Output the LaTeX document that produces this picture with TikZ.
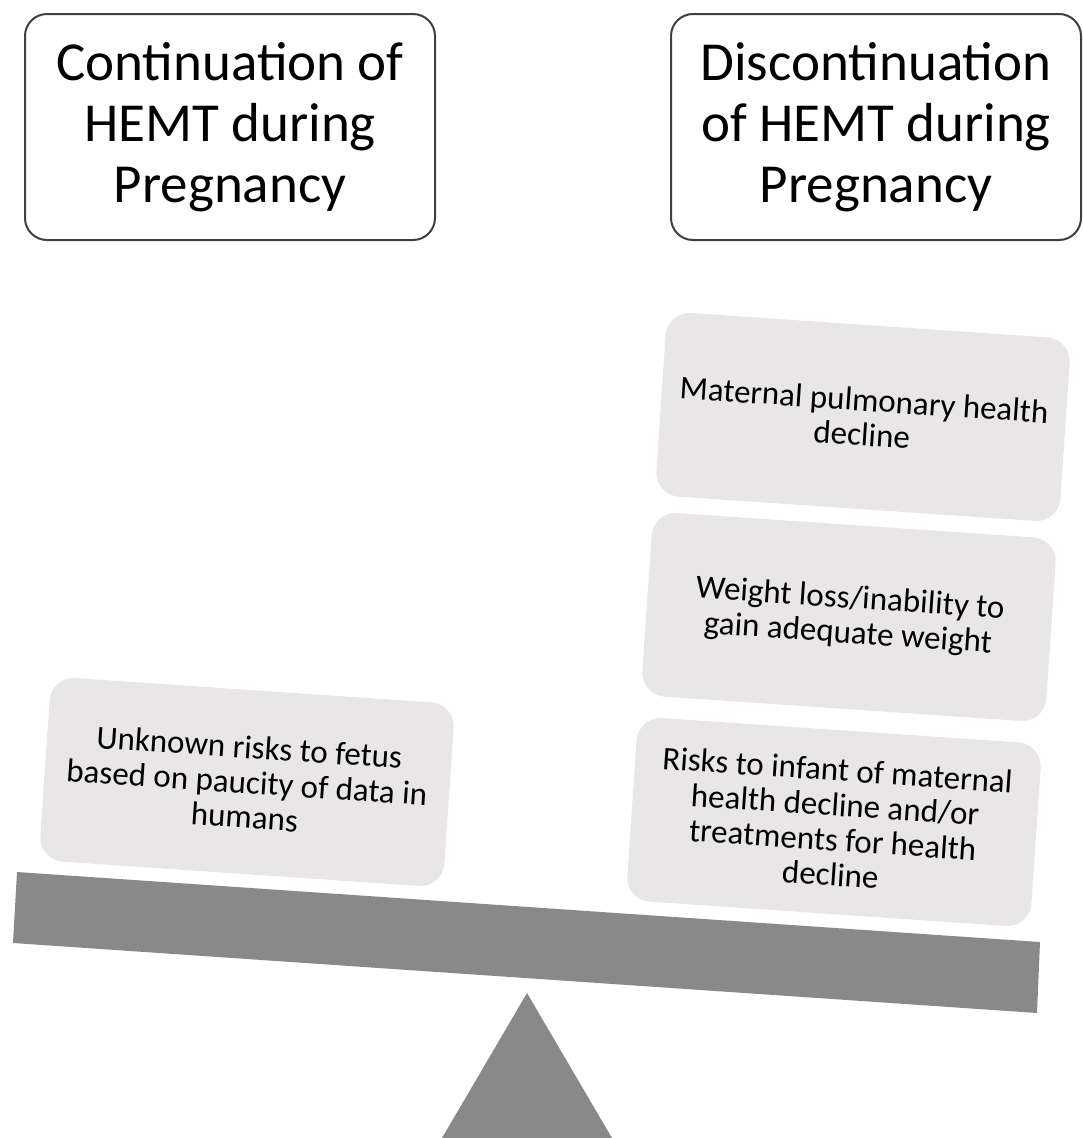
\documentclass[tikz,border=0pt]{standalone}
\usepackage{fontspec}
\setmainfont{Carlito}
\definecolor{beamgray}{RGB}{137,137,137}
\definecolor{boxgray}{RGB}{232,230,231}
\definecolor{framegray}{RGB}{64,64,64}
\begin{document}
\begin{tikzpicture}[x=1pt,y=-1pt,
  headbox/.style={draw=framegray, line width=2pt, fill=white, rounded corners=22pt,
    minimum width=410pt, minimum height=226pt, align=center, inner sep=0pt,
    font=\fontsize{55}{61}\selectfont},
  itembox/.style={fill=boxgray, rounded corners=24pt, minimum width=405pt,
    minimum height=184pt, align=center, inner sep=0pt, rotate=-3.9,
    font=\fontsize{33}{35}\selectfont}]
\useasboundingbox (0,0) rectangle (1082,1138);
\fill[white] (0,0) rectangle (1082,1138);

% heading boxes
\node[headbox] (cont) at (230,127) {Continuation of\\HEMT during\\Pregnancy};
\node[headbox] (disc) at (876,127) {Discontinuation\\of HEMT during\\Pregnancy};

% items on the scale
\node[itembox] (fetus) at (247,782) {Unknown risks to fetus\\based on paucity of data in\\humans};
\node[itembox] (pulm) at (863,417) {Maternal pulmonary health\\decline};
\node[itembox] (weight) at (849,617) {Weight loss/inability to\\gain adequate weight};
\node[itembox] (infant) at (834,822) {Risks to infant of maternal\\health decline and/or\\treatments for health\\decline};

% beam and fulcrum
\fill[beamgray] (17,872) -- (1040,942) -- (1037,1013) -- (13,943) -- cycle;
\fill[beamgray] (527,993) -- (612,1138) -- (442,1138) -- cycle;
\end{tikzpicture}
\end{document}
